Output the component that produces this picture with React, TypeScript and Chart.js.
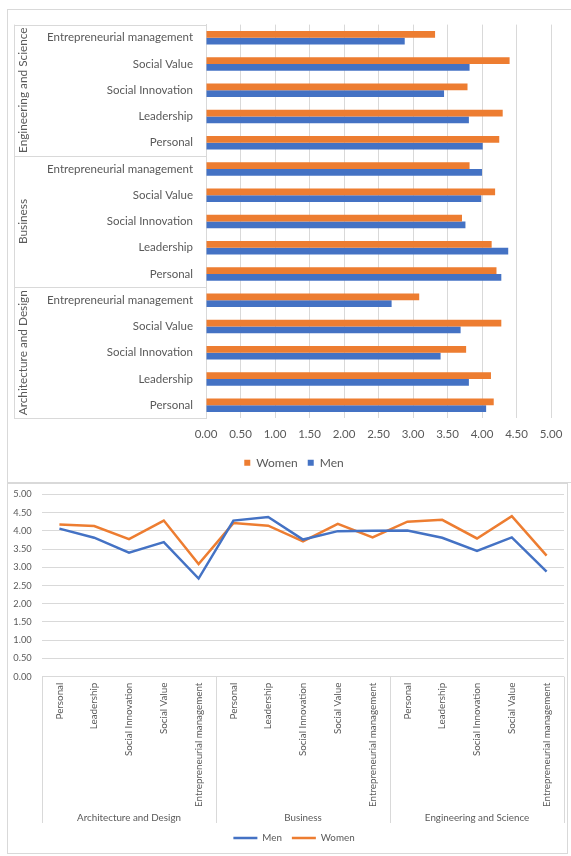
import React, { useEffect, useRef } from 'react';
import { Chart, registerables } from 'chart.js';

Chart.register(...registerables);

// ---- data ----
const groups = ['Architecture and Design', 'Business', 'Engineering and Science'];
const categories = ['Personal', 'Leadership', 'Social Innovation', 'Social Value', 'Entrepreneurial management'];
// values in order: group by group, category by category
const menValues = [4.06, 3.81, 3.40, 3.69, 2.69, 4.28, 4.38, 3.76, 3.99, 4.00, 4.01, 3.81, 3.45, 3.82, 2.88];
const womenValues = [4.17, 4.13, 3.77, 4.28, 3.09, 4.21, 4.14, 3.71, 4.19, 3.82, 4.25, 4.30, 3.79, 4.40, 3.32];
const valueMin = 0;
const valueMax = 5;
const valueStep = 0.5;

const ORANGE = '#ED7D31';
const BLUE = '#4472C4';
const GRID = '#d9d9d9';
const TEXT = '#595959';
const FONT = 'Lato';

const fmt = (v: any) => Number(v).toFixed(2);

// bar chart runs top -> bottom: last group first, last category first
const barLabels: string[] = [];
const barWomen: number[] = [];
const barMen: number[] = [];
for (let g = groups.length - 1; g >= 0; g--) {
  for (let c = categories.length - 1; c >= 0; c--) {
    barLabels.push(categories[c]);
    barWomen.push(womenValues[g * categories.length + c]);
    barMen.push(menValues[g * categories.length + c]);
  }
}
const barGroups = [...groups].reverse();

const lineLabels: string[] = [];
groups.forEach(() => categories.forEach((c) => lineLabels.push(c)));

const noPad = (s: any) => {
  s.paddingTop = 0;
  s.paddingBottom = 0;
  s.paddingLeft = 0;
  s.paddingRight = 0;
};

const legendShift = (d: number) => ({
  id: 'legendShift',
  afterLayout(chart: any) {
    const l = chart.legend;
    if (l) {
      l.left += d;
      l.right += d;
    }
  },
});

const barGroupPlugin = {
  id: 'barGroups',
  afterDraw(chart: any) {
    const { ctx, chartArea, scales } = chart;
    const y = scales.y;
    const n = categories.length;
    const step = y.getPixelForValue(1) - y.getPixelForValue(0);
    const x0 = 6;
    const x1 = chartArea.left;
    ctx.save();
    ctx.strokeStyle = GRID;
    ctx.lineWidth = 1;
    const top = y.getPixelForValue(0) - step / 2;
    const bottom = y.getPixelForValue(barLabels.length - 1) + step / 2;
    ctx.beginPath();
    for (let g = 0; g <= barGroups.length; g++) {
      const yy = Math.round(y.getPixelForValue(g * n) - step / 2) + 0.5;
      ctx.moveTo(x0, yy);
      ctx.lineTo(x1, yy);
    }
    ctx.moveTo(x0 + 0.5, top);
    ctx.lineTo(x0 + 0.5, bottom);
    ctx.stroke();
    ctx.fillStyle = TEXT;
    ctx.font = `11.8px ${FONT}`;
    ctx.textAlign = 'center';
    ctx.textBaseline = 'middle';
    barGroups.forEach((name, g) => {
      const cy = (y.getPixelForValue(g * n) + y.getPixelForValue(g * n + n - 1)) / 2;
      ctx.save();
      ctx.translate(15.5, cy);
      ctx.rotate(-Math.PI / 2);
      ctx.fillText(name, 0, 0);
      ctx.restore();
    });
    ctx.restore();
  },
};

const lineGroupPlugin = {
  id: 'lineGroups',
  afterDraw(chart: any) {
    const { ctx, chartArea, scales } = chart;
    const x = scales.x;
    const n = categories.length;
    const step = x.getPixelForValue(1) - x.getPixelForValue(0);
    ctx.save();
    ctx.strokeStyle = GRID;
    ctx.lineWidth = 1;
    ctx.beginPath();
    for (let g = 0; g <= groups.length; g++) {
      const xx = Math.round(x.getPixelForValue(g * n) - step / 2) + 0.5;
      ctx.moveTo(xx, chartArea.bottom);
      ctx.lineTo(xx, 339);
    }
    ctx.stroke();
    ctx.fillStyle = TEXT;
    ctx.font = `9.8px ${FONT}`;
    ctx.textAlign = 'center';
    ctx.textBaseline = 'middle';
    groups.forEach((name, g) => {
      const cx = (x.getPixelForValue(g * n) + x.getPixelForValue(g * n + n - 1)) / 2;
      ctx.fillText(name, cx, 334);
    });
    ctx.restore();
  },
};

function BarChart() {
  const ref = useRef<HTMLCanvasElement>(null);
  useEffect(() => {
    const chart = new Chart(ref.current!, {
      type: 'bar',
      data: {
        labels: barLabels,
        datasets: [
          { label: 'Women', data: barWomen, backgroundColor: ORANGE, barPercentage: 1, categoryPercentage: 0.51 },
          { label: 'Men', data: barMen, backgroundColor: BLUE, barPercentage: 1, categoryPercentage: 0.51 },
        ],
      },
      options: {
        indexAxis: 'y',
        responsive: false,
        animation: false,
        layout: { padding: { left: 0, right: 20, top: 14.6, bottom: 3.3 } },
        plugins: {
          legend: {
            position: 'bottom',
            labels: { boxWidth: 6, boxHeight: 6, padding: 10, color: TEXT, font: { family: FONT, size: 12 } },
          },
          tooltip: { enabled: false },
        },
        scales: {
          x: {
            min: valueMin,
            max: valueMax,
            ticks: { stepSize: valueStep, callback: fmt, color: TEXT, font: { family: FONT, size: 11.5 }, padding: 9, maxRotation: 0 },
            grid: { color: GRID, drawTicks: false },
            border: { display: false },
            afterFit(s: any) { s.height = 28.3; noPad(s); },
          },
          y: {
            ticks: { color: TEXT, font: { family: FONT, size: 11.5 }, padding: 13, autoSkip: false },
            grid: { display: false, drawTicks: false },
            border: { display: true, color: GRID },
            afterFit(s: any) { s.width = 198; noPad(s); },
          },
        },
      } as any,
      plugins: [barGroupPlugin, legendShift(14.5)],
    });
    return () => chart.destroy();
  }, []);
  return <canvas ref={ref} width={563} height={472} style={{ display: 'block' }} />;
}

function LineChart() {
  const ref = useRef<HTMLCanvasElement>(null);
  useEffect(() => {
    const chart = new Chart(ref.current!, {
      type: 'line',
      data: {
        labels: lineLabels,
        datasets: [
          { label: 'Men', data: menValues, borderColor: BLUE, backgroundColor: BLUE, borderWidth: 2.5, pointRadius: 0, tension: 0 },
          { label: 'Women', data: womenValues, borderColor: ORANGE, backgroundColor: ORANGE, borderWidth: 2.5, pointRadius: 0, tension: 0 },
        ],
      },
      options: {
        responsive: false,
        animation: false,
        layout: { padding: { left: 0, right: 3, top: 10.3, bottom: 0 } },
        plugins: {
          legend: {
            position: 'bottom',
            labels: { usePointStyle: true, pointStyle: 'line', pointStyleWidth: 24, padding: 10, color: TEXT, font: { family: FONT, size: 9.8 } },
          },
          tooltip: { enabled: false },
        },
        scales: {
          x: {
            offset: true,
            grid: { display: false, drawTicks: false },
            border: { display: false },
            ticks: { minRotation: 90, maxRotation: 90, autoSkip: false, padding: 6, color: TEXT, font: { family: FONT, size: 9.8 } },
            afterFit(s: any) { s.height = 146.5; noPad(s); },
          },
          y: {
            min: valueMin,
            max: valueMax,
            ticks: { stepSize: valueStep, callback: fmt, color: TEXT, font: { family: FONT, size: 9.3 }, padding: 10.3 },
            grid: { color: GRID, drawTicks: false },
            border: { display: false },
            afterFit(s: any) { s.width = 34; noPad(s); },
          },
        },
      } as any,
      plugins: [lineGroupPlugin, legendShift(8)],
    });
    return () => chart.destroy();
  }, []);
  return <canvas ref={ref} width={559} height={369} style={{ display: 'block' }} />;
}

export default function App() {
  return (
    <div>
      <div
        style={{
          position: 'absolute',
          left: 7,
          top: 9,
          width: 563,
          height: 472,
          borderTop: `1px solid ${GRID}`,
          borderLeft: `1px solid ${GRID}`,
          borderBottom: `1px solid ${GRID}`,
          background: '#fff',
        }}
      >
        <BarChart />
      </div>
      <div
        style={{
          position: 'absolute',
          left: 7,
          top: 483,
          width: 559,
          height: 369,
          border: `1px solid ${GRID}`,
          background: '#fff',
        }}
      >
        <LineChart />
      </div>
    </div>
  );
}
